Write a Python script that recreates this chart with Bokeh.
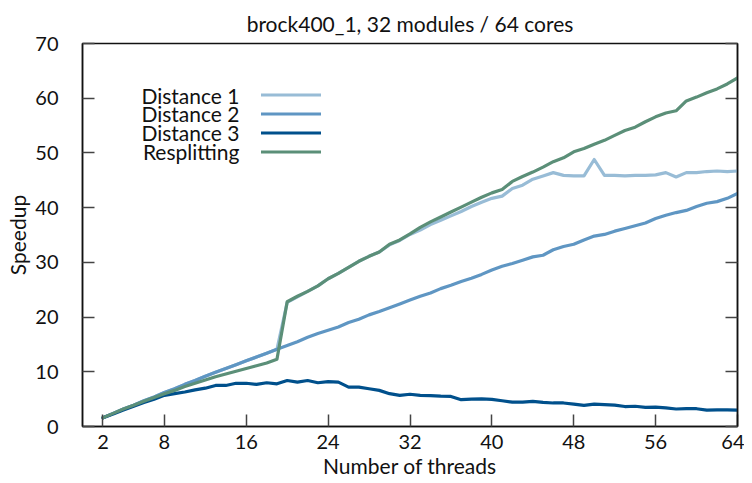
from bokeh.plotting import figure
from bokeh.models import Range1d, FixedTicker, LinearAxis, Legend, LegendItem, Label
from bokeh.embed import file_html
from bokeh.resources import INLINE

threads = list(range(2, 65))

distance1 = [1.6, 2.4, 3.2, 3.9, 4.7, 5.4, 6.2, 6.9, 7.7, 8.4, 9.2, 9.9, 10.6, 11.3, 12.0, 12.7, 13.4, 14.1,
             22.7, 23.7, 24.7, 25.7, 27.0, 28.0, 29.1, 30.2, 31.1, 31.9, 33.2, 34.0, 35.1, 35.9, 36.9, 37.7,
             38.5, 39.3, 40.2, 41.0, 41.7, 42.1, 43.5, 44.1, 45.2, 45.8, 46.4, 45.9, 45.8, 45.8, 48.8, 45.9,
             45.9, 45.8, 45.9, 45.9, 46.0, 46.4, 45.6, 46.4, 46.4, 46.6, 46.7, 46.6, 46.7]
distance2 = [1.6, 2.4, 3.2, 3.9, 4.7, 5.4, 6.2, 6.9, 7.7, 8.4, 9.2, 9.9, 10.6, 11.3, 12.0, 12.7, 13.4, 14.1,
             14.8, 15.5, 16.3, 17.0, 17.6, 18.2, 19.0, 19.6, 20.4, 21.0, 21.7, 22.4, 23.1, 23.8, 24.4, 25.2,
             25.8, 26.5, 27.1, 27.8, 28.6, 29.3, 29.8, 30.4, 31.0, 31.3, 32.3, 32.9, 33.3, 34.1, 34.8, 35.1,
             35.7, 36.2, 36.7, 37.2, 38.0, 38.6, 39.1, 39.5, 40.2, 40.8, 41.1, 41.7, 42.6]
distance3 = [1.6, 2.3, 3.0, 3.7, 4.4, 5.0, 5.7, 6.0, 6.3, 6.7, 7.0, 7.5, 7.5, 7.9, 7.9, 7.7, 8.0, 7.8,
             8.4, 8.1, 8.4, 8.0, 8.2, 8.1, 7.2, 7.2, 6.9, 6.6, 6.0, 5.7, 5.9, 5.7, 5.65, 5.55,
             5.5, 4.9, 5.0, 5.05, 4.95, 4.7, 4.45, 4.45, 4.6, 4.4, 4.3, 4.3, 4.1, 3.85, 4.1, 4.0,
             3.9, 3.65, 3.7, 3.5, 3.55, 3.4, 3.2, 3.25, 3.25, 3.0, 3.05, 3.05, 3.0]
resplitting = [1.6, 2.4, 3.2, 3.9, 4.6, 5.3, 6.0, 6.6, 7.3, 7.9, 8.5, 9.1, 9.6, 10.1, 10.6, 11.1, 11.6, 12.3,
               22.8, 23.8, 24.7, 25.7, 27.0, 28.0, 29.1, 30.2, 31.1, 31.9, 33.3, 34.1, 35.2, 36.4, 37.4, 38.3,
               39.2, 40.1, 41.0, 41.9, 42.7, 43.3, 44.8, 45.7, 46.5, 47.4, 48.4, 49.1, 50.2, 50.8, 51.6, 52.3,
               53.2, 54.1, 54.7, 55.7, 56.6, 57.3, 57.7, 59.5, 60.2, 61.0, 61.7, 62.6, 63.7]

series_names = ["Distance 1", "Distance 2", "Distance 3", "Resplitting"]
series_colors = ["#98bcd6", "#5f96c3", "#00508c", "#5b8f78"]
x_ticks = [2, 8, 16, 24, 32, 40, 48, 56, 64]
y_ticks = [0, 10, 20, 30, 40, 50, 60, 70]
title_text = "brock400_1, 32 modules / 64 cores"
x_label = "Number of threads"
y_label = "Speedup"

FONT = "Lato"
FS = "20px"

p = figure(width=744, height=481, output_backend="svg", toolbar_location=None,
           x_range=Range1d(0, 64), y_range=Range1d(0, 70),
           min_border_left=82, min_border_right=7, min_border_top=42, min_border_bottom=55)
p.title.text = title_text
p.title.align = "center"
p.title.vertical_align = "bottom"
p.title.text_font = FONT
p.title.text_font_size = "21px"
p.title.text_font_style = "normal"
p.title.text_color = "#111111"
p.title.standoff = 16

p.xgrid.visible = False
p.ygrid.visible = False
p.outline_line_color = "#111111"
p.outline_line_width = 1.5
p.background_fill_color = "white"
p.border_fill_color = "white"

for ax in (p.xaxis[0], p.yaxis[0]):
    ax.axis_line_color = "#111111"
    ax.axis_line_width = 1.5
    ax.major_tick_in = 12
    ax.major_tick_out = 0
    ax.major_tick_line_color = "#444444"
    ax.major_tick_line_width = 1.5
    ax.minor_tick_line_color = None
    ax.major_label_text_font = FONT
    ax.major_label_text_font_size = FS
    ax.major_label_text_color = "#111111"
    ax.axis_label_text_font = FONT
    ax.axis_label_text_font_size = "21px"
    ax.axis_label_text_font_style = "normal"
    ax.axis_label_text_color = "#111111"
    ax.axis_label_text_line_height = 1.0

p.xaxis.ticker = FixedTicker(ticks=x_ticks)
p.yaxis.ticker = FixedTicker(ticks=y_ticks)
p.xaxis.axis_label = x_label
p.yaxis.axis_label = y_label
p.xaxis.major_label_standoff = 8
p.yaxis.major_label_standoff = 24
p.xaxis.axis_label_standoff = 1
p.yaxis.axis_label_standoff = 2

right = LinearAxis(ticker=FixedTicker(ticks=y_ticks))
right.major_label_text_color = None
right.major_label_text_font_size = "4px"
right.major_label_standoff = 0
right.major_tick_in = 12
right.major_tick_out = 0
right.major_tick_line_color = "#444444"
right.major_tick_line_width = 1.5
right.minor_tick_line_color = None
right.axis_line_color = "#111111"
right.axis_line_width = 1.5
p.add_layout(right, "right")

renderers = []
for vals, c in zip([distance1, distance2, distance3, resplitting], series_colors):
    r = p.line(threads, vals, line_color=c, line_width=3.2, line_join="round", line_cap="round")
    renderers.append(r)

items = [LegendItem(label=" " * (i + 1), renderers=[r]) for i, r in enumerate(renderers)]
legend = Legend(items=items, location=(179, 265), orientation="vertical",
                glyph_width=60, glyph_height=19, label_height=19, label_width=1,
                label_standoff=0, spacing=0, padding=0, margin=0,
                label_text_font_size="8px",
                background_fill_alpha=0, border_line_alpha=0)
p.add_layout(legend, "center")

row_y = [331.3, 312.7, 294.0, 275.3]
for name, yy in zip(series_names, row_y):
    p.add_layout(Label(x=157, y=yy, x_units="screen", y_units="screen", text=name,
                       text_align="right", text_baseline="middle",
                       text_font=FONT, text_font_size="21px", text_color="#111111"))

open("out.html", "w").write(file_html(p, INLINE))
